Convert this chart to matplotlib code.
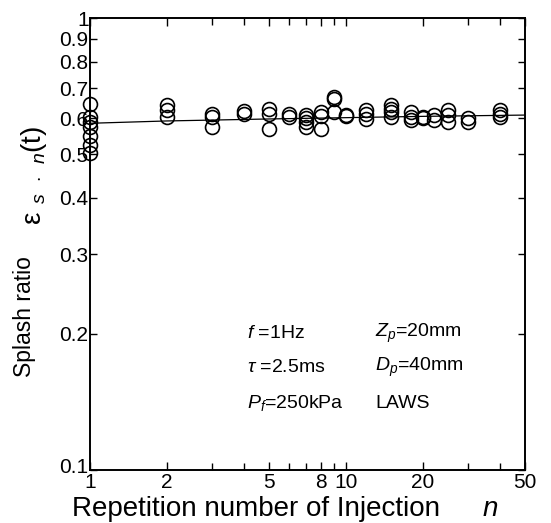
import matplotlib
matplotlib.use("Agg")
import matplotlib.pyplot as plt
from matplotlib.ticker import FixedLocator, FixedFormatter, NullFormatter
from matplotlib.transforms import ScaledTranslation

plt.rcParams["font.family"] = ["Liberation Sans", "DejaVu Sans"]
plt.rcParams["mathtext.fontset"] = "custom"
plt.rcParams["mathtext.rm"] = "Liberation Sans"
plt.rcParams["mathtext.it"] = "Liberation Sans:italic"

# repetition number n and measured splash ratio (several runs per n)
n_vals = [1, 1, 1, 1, 1, 1, 1,
          2, 2, 2,
          3, 3, 3,
          4, 4,
          5, 5, 5,
          6, 6,
          7, 7, 7, 7,
          8, 8, 8,
          9, 9, 9,
          10, 10,
          12, 12, 12,
          15, 15, 15, 15,
          18, 18, 18,
          20, 20,
          22, 22,
          25, 25, 25,
          30, 30,
          40, 40, 40]
ratio_vals = [0.646, 0.605, 0.590, 0.575, 0.547, 0.525, 0.502,
              0.643, 0.625, 0.605,
              0.613, 0.605, 0.575,
              0.622, 0.613,
              0.630, 0.612, 0.569,
              0.613, 0.605,
              0.610, 0.600, 0.590, 0.575,
              0.620, 0.607, 0.569,
              0.663, 0.668, 0.621,
              0.607, 0.610,
              0.627, 0.612, 0.598,
              0.643, 0.630, 0.620, 0.605,
              0.620, 0.605, 0.596,
              0.603, 0.600,
              0.610, 0.596,
              0.627, 0.610, 0.590,
              0.600, 0.590,
              0.627, 0.613, 0.605]

# fitted curve
fit_n = [1, 2, 5, 10, 20, 50]
fit_ratio = [0.585, 0.592, 0.598, 0.602, 0.606, 0.610]

x_ticks = [1, 2, 5, 8, 10, 20, 50]
x_minor = [3, 4, 6, 7, 9, 30, 40]
y_ticks = [0.1, 0.2, 0.3, 0.4, 0.5, 0.6, 0.7, 0.8, 0.9, 1]
y_labels = ["0.1", "0.2", "0.3", "0.4", "0.5", "0.6", "0.7", "0.8", "0.9", "1"]

fig = plt.figure(figsize=(5.51, 5.23), dpi=100)
ax = fig.add_axes([0.1633, 0.1013, 0.7895, 0.8642])

ax.plot(fit_n, fit_ratio, color="black", lw=0.9, zorder=2)
ax.plot(n_vals, ratio_vals, linestyle="none", marker="o", markersize=10,
        markerfacecolor="none", markeredgecolor="black", markeredgewidth=1.2,
        zorder=3, clip_on=False)

ax.set_xscale("log")
ax.set_yscale("log")
ax.set_xlim(1, 50)
ax.set_ylim(0.1, 1)

ax.xaxis.set_major_locator(FixedLocator(x_ticks))
ax.xaxis.set_major_formatter(FixedFormatter([str(v) for v in x_ticks]))
ax.xaxis.set_minor_locator(FixedLocator(x_minor))
ax.xaxis.set_minor_formatter(NullFormatter())
ax.yaxis.set_major_locator(FixedLocator(y_ticks))
ax.yaxis.set_major_formatter(FixedFormatter(y_labels))
ax.yaxis.set_minor_locator(FixedLocator([]))

ax.tick_params(which="both", direction="in", top=True, right=True,
               labelsize=15, width=1.0, pad=1)
ax.tick_params(axis="x", which="major", length=6, pad=2)
ax.tick_params(axis="x", which="minor", length=5)
ax.tick_params(axis="y", which="major", length=5)
for s in ax.spines.values():
    s.set_linewidth(1.4)

# lift the bottom y label a little, as in the original
fig.canvas.draw()
lbl = ax.yaxis.get_majorticklabels()[0]
lbl.set_transform(lbl.get_transform() + ScaledTranslation(0, 5 / 100, fig.dpi_scale_trans))

# axis titles
fig.text(0.045, 0.394, "Splash ratio", rotation=90, fontsize=16.5,
         ha="center", va="center")
fig.text(0.062, 0.665,
         r"$\mathrm{\varepsilon}_{\;\;s\;\;\cdot\;\;n}\mathrm{(t)}$",
         rotation=90, fontsize=20, ha="center", va="center")
fig.text(0.465, 1 - 516 / 523, "Repetition number of Injection", fontsize=20,
         ha="center", va="baseline")
fig.text(0.889, 1 - 516 / 523, r"$n$", fontsize=20, ha="center", va="baseline")

# experimental conditions
cond_left = [r"$f$ =1Hz", r"$\tau$ =2.5ms", r"$P_f$=250kPa"]
cond_right = [r"$Z_p$=20mm", r"$D_p$=40mm", "LAWS"]
cond_y = [333, 367, 403]
for txt, yp in zip(cond_left, cond_y):
    fig.text(247 / 551, 1 - yp / 523, txt, fontsize=14, ha="left", va="center")
for txt, yp in zip(cond_right, cond_y):
    fig.text(375 / 551, 1 - yp / 523, txt, fontsize=14, ha="left", va="center")

fig.savefig("out.png", dpi=100)
